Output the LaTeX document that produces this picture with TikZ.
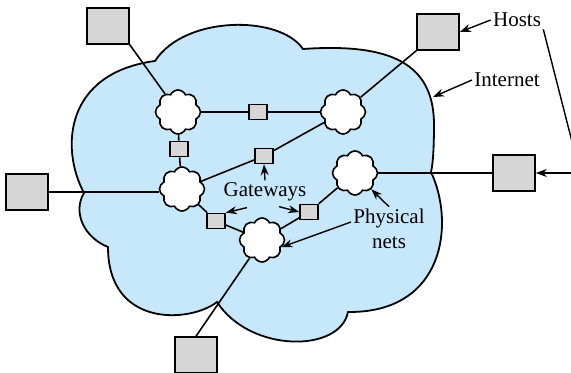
\documentclass[tikz,border=0pt]{standalone}
\usepackage{fontspec}
\setmainfont{Liberation Serif}
\usetikzlibrary{shapes.symbols,arrows.meta,calc}
\definecolor{netblue}{RGB}{198,232,250}
\definecolor{boxgray}{RGB}{214,214,214}
\begin{document}
\begin{tikzpicture}[x=0.5pt,y=0.5pt,
    host/.style={rectangle, draw, fill=boxgray, line width=0.8pt, minimum width=21pt, minimum height=18pt, inner sep=0pt},
    gate/.style={rectangle, draw, fill=boxgray, line width=0.8pt, minimum width=9pt, minimum height=7.5pt, inner sep=0pt},
    net/.style={cloud, cloud puffs=8, cloud puff arc=130, aspect=1, draw, fill=white, line width=0.8pt, minimum width=22.5pt, minimum height=22pt, inner sep=0pt},
    link/.style={line width=0.8pt},
    arrow/.style={-{Stealth[length=5.5pt,width=4pt]}, line width=0.7pt},
    txt/.style={font=\fontsize{10.5}{12.5}\selectfont, inner sep=1pt}
]
    \useasboundingbox (0,0) rectangle (571,373);

    % the internet
    \draw[line width=0.9pt, fill=netblue]
        (155,312) .. controls (185,358) and (280,358) .. (303,324)
        .. controls (390,330) and (433,310) .. (434,250)
        .. controls (434,225) and (433,210) .. (431,201)
        .. controls (455,150) and (445,60) .. (348,61)
        .. controls (340,20) and (250,20) .. (217,71)
        .. controls (190,50) and (108,45) .. (108,126)
        .. controls (85,135) and (72,160) .. (84,180)
        .. controls (60,225) and (65,300) .. (155,312) -- cycle;

    % physical nets
    \node[net] (c1) at (178,261) {};
    \node[net] (c2) at (343,261) {};
    \node[net] (c3) at (182,184) {};
    \node[net] (c4) at (355,200) {};
    \node[net] (c5) at (262,133) {};

    % gateways
    \node[gate] (g1) at (258,261) {};
    \node[gate] (g2) at (179,224) {};
    \node[gate] (g3) at (264,217) {};
    \node[gate] (g4) at (216,152) {};
    \node[gate] (g5) at (309,161) {};

    % hosts
    \node[host] (h1) at (108,347) {};
    \node[host] (h2) at (438,341) {};
    \node[host] (h3) at (27,181) {};
    \node[host] (h4) at (514,200) {};
    \node[host] (h5) at (196,18) {};

    \draw[link] (c1) -- (g1) -- (c2);
    \draw[link] (c1) -- (g2) -- (c3);
    \draw[link] (c3) -- (g3) -- (c2);
    \draw[link] (c3) -- (g4) -- (c5);
    \draw[link] (c5) -- (g5) -- (c4);

    \draw[link] (h1.south east) -- (c1);
    \draw[link] (h2.south west) -- (c2);
    \draw[link] (h3.east) -- (h3.east -| c3.west);
    \draw[link] (h4) -- (c4);
    \draw[link] (h5.north) -- (c5);

    % labels
    \node[txt] (hosts) at (517,353) {Hosts};
    \node[txt] (inet) at (507,293) {Internet};
    \node[txt] (gw) at (265,181) {Gateways};
    \node[txt, align=center] (pn) at (389,144) {Physical\\nets};

    \coordinate (bend) at (580,200);
    \coordinate (edge) at (433,276);

    \draw[arrow] (hosts.west) -- (h2.east);
    \draw[line width=0.7pt] (hosts.south east) -- (bend);
    \draw[arrow] (bend) -- (h4.east);
    \draw[arrow] (inet.west) -- (edge);
    \draw[arrow] (gw.north) -- (g3.south);
    \draw[arrow] ($(gw.south)+(-18,-4)$) -- (g4.north east);
    \draw[arrow] ($(gw.south)+(14,-3)$) -- (g5.west);
    \draw[arrow] (pn.north) -- (c4.-45);
    \draw[arrow] ([yshift=3.5pt]pn.west) -- (c5.-20);
\end{tikzpicture}
\end{document}
